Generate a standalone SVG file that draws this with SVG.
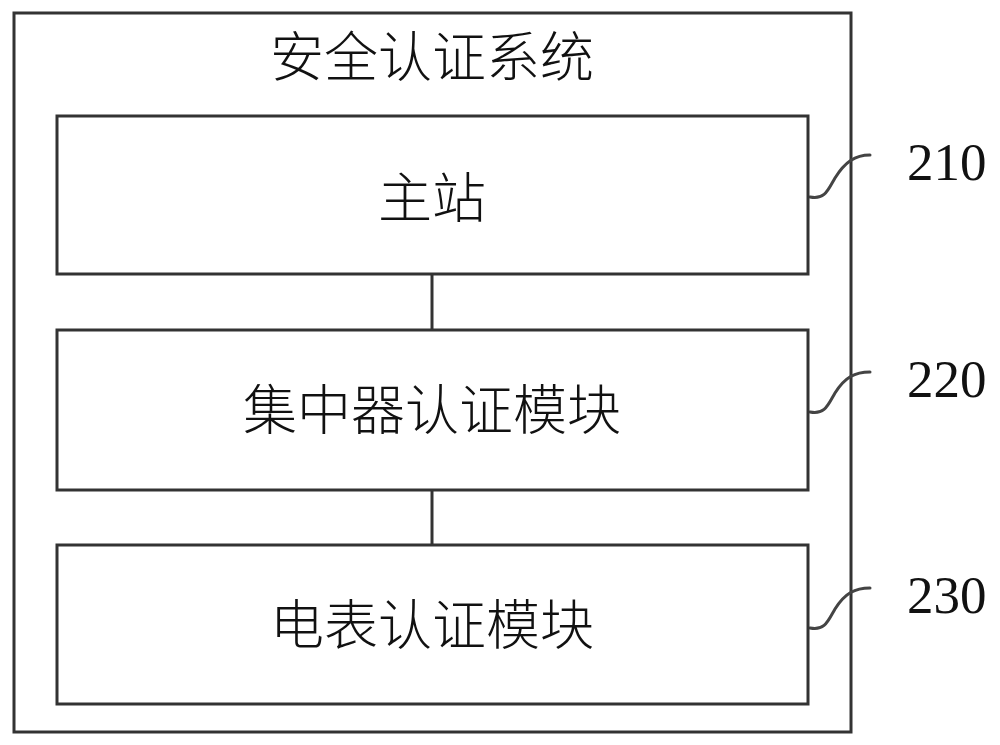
<svg xmlns="http://www.w3.org/2000/svg" width="1000" height="745" viewBox="0 0 1000 745">
<style>
.box{fill:none;stroke:#333;stroke-width:3}
.ln{fill:none;stroke:#333;stroke-width:3}
.sq{fill:none;stroke:#444;stroke-width:3;stroke-linecap:round}
.cn{font-family:"Noto Sans CJK SC","Noto Sans",sans-serif;font-size:54px;font-weight:300;fill:#111;text-anchor:middle}
.num{font-family:"Liberation Serif",serif;font-size:53px;fill:#111}
</style>
<rect width="1000" height="745" fill="#fff"/>
<g id="system">
<rect class="box" x="14" y="13" width="837" height="719"/>
<text class="cn" x="432" y="77">安全认证系统</text>
</g>
<g id="connectors">
<line class="ln" x1="432" y1="274" x2="432" y2="330"/>
<line class="ln" x1="432" y1="490" x2="432" y2="545"/>
<path class="sq" d="M810,197 C825,200 828,190 835,178 C845,162 855,155 870,155"/>
<path class="sq" d="M810,412 C825,415 828,405 835,393 C845,377 855,372 870,372"/>
<path class="sq" d="M810,628 C825,631 828,621 835,609 C845,593 855,588 870,588"/>
</g>
<g id="n210">
<rect class="box" x="57" y="116" width="751" height="158"/>
<text class="cn" x="432" y="218">主站</text>
<text class="num" x="907" y="180">210</text>
</g>
<g id="n220">
<rect class="box" x="57" y="330" width="751" height="160"/>
<text class="cn" x="432" y="430">集中器认证模块</text>
<text class="num" x="907" y="397">220</text>
</g>
<g id="n230">
<rect class="box" x="57" y="545" width="751" height="159"/>
<text class="cn" x="432" y="645">电表认证模块</text>
<text class="num" x="907" y="613">230</text>
</g>
</svg>
